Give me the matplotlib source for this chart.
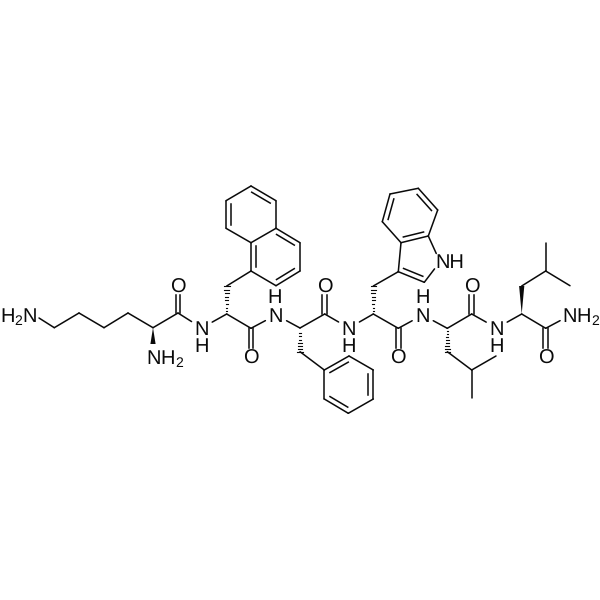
import numpy as np
import matplotlib
matplotlib.use("Agg")
import matplotlib.pyplot as plt

plt.rcParams["font.family"] = ["Liberation Sans", "DejaVu Sans"]
plt.rcParams["mathtext.fontset"] = "custom"
plt.rcParams["mathtext.rm"] = "Liberation Sans"
plt.rcParams["text.hinting"] = "no_hinting"

# atom positions (pixels, y down)
atoms = {
    "N1": (39, 318), "c1": (54.3, 327.7), "c2": (79, 313), "c3": (104, 327.7), "c4": (128, 313),
    "ca1": (153, 327.7), "N1a": (153, 344), "co1": (178, 313), "O1": (178, 286),
    "N2": (201.7, 328), "ca2": (226.7, 314), "cb2": (226.7, 286), "co2": (251, 328.3), "O2": (251, 356.7),
    "n1": (251, 271), "n2": (276, 285.7), "n3": (300, 271), "n4": (300, 242.7), "n4a": (276, 228.3),
    "n8a": (251, 242.7), "n8": (226, 228.3), "n7": (226, 200.7), "n6": (251, 186), "n5": (276, 200.7),
    "N3": (276, 315), "ca3": (300, 328), "cb3": (300, 351.7), "co3": (324.7, 314), "O3": (324.7, 286),
    "p1": (324.3, 370), "p2": (349, 356), "p3": (373.3, 370), "p4": (373.3, 399), "p5": (348.3, 413.3), "p6": (324.3, 399),
    "N4": (349, 328), "ca4": (373.3, 314), "cb4": (373.3, 286), "co4": (398.3, 328.3), "O4": (398.3, 356.7),
    "i3": (398.3, 271.7), "i2": (424.3, 282.3), "iN": (440, 261.7), "i7a": (428.3, 236), "i3a": (401, 242.7),
    "i4": (382.3, 221.7), "i5": (390, 194), "i6": (418.3, 188.3), "i7": (437.7, 210),
    "N5": (422.7, 315), "ca5": (447.3, 328.3), "cb5": (447.3, 351.7), "cg5": (471.7, 370), "d51": (496, 356), "d52": (471.7, 398.3),
    "co5": (471.7, 314), "O5": (471.7, 286),
    "N6": (496.7, 328), "ca6": (521.7, 314), "cb6": (521.7, 286), "cg6": (545.7, 271), "d61": (545.7, 243.3), "d62": (570, 285.7),
    "co6": (545.7, 328.3), "O6": (545.7, 356.7), "N7": (570.7, 315),
}

single_bonds = [
    ("N1", "c1"), ("c1", "c2"), ("c2", "c3"), ("c3", "c4"), ("c4", "ca1"), ("ca1", "co1"),
    ("co1", "N2"), ("N2", "ca2"), ("ca2", "co2"), ("co2", "N3"), ("N3", "ca3"), ("ca3", "co3"),
    ("co3", "N4"), ("N4", "ca4"), ("ca4", "co4"), ("co4", "N5"), ("N5", "ca5"), ("ca5", "co5"),
    ("co5", "N6"), ("N6", "ca6"), ("ca6", "co6"), ("co6", "N7"),
    ("cb2", "n1"), ("n1", "n2"), ("n2", "n3"), ("n3", "n4"), ("n4", "n4a"), ("n4a", "n8a"), ("n8a", "n1"),
    ("n8a", "n8"), ("n8", "n7"), ("n7", "n6"), ("n6", "n5"), ("n5", "n4a"),
    ("cb3", "p1"), ("p1", "p2"), ("p2", "p3"), ("p3", "p4"), ("p4", "p5"), ("p5", "p6"), ("p6", "p1"),
    ("cb4", "i3"), ("i3", "i2"), ("i2", "iN"), ("iN", "i7a"), ("i7a", "i3a"), ("i3a", "i3"),
    ("i3a", "i4"), ("i4", "i5"), ("i5", "i6"), ("i6", "i7"), ("i7", "i7a"),
    ("cb5", "cg5"), ("cg5", "d51"), ("cg5", "d52"),
    ("cb6", "cg6"), ("cg6", "d61"), ("cg6", "d62"),
]
carbonyls = [("co1", "O1"), ("co2", "O2"), ("co3", "O3"), ("co4", "O4"), ("co5", "O5"), ("co6", "O6")]
# second line of a ring double bond: the pair, then the ring it leans into
ring_doubles = [
    ("n8", "n7", "A"), ("n6", "n5", "A"), ("n4a", "n4", "B"), ("n3", "n2", "B"), ("n8a", "n1", "B"),
    ("p1", "p2", "P"), ("p3", "p4", "P"), ("p5", "p6", "P"),
    ("i3", "i2", "F"), ("i3a", "i7a", "I"), ("i4", "i5", "I"), ("i6", "i7", "I"),
]
rings = {
    "A": ["n8a", "n8", "n7", "n6", "n5", "n4a"],
    "B": ["n1", "n2", "n3", "n4", "n4a", "n8a"],
    "P": ["p1", "p2", "p3", "p4", "p5", "p6"],
    "F": ["i3", "i2", "iN", "i7a", "i3a"],
    "I": ["i3a", "i4", "i5", "i6", "i7", "i7a"],
}
wedges = [("ca1", "N1a"), ("ca6", "cb6")]
hashes = [("ca2", "cb2"), ("ca3", "cb3"), ("ca4", "cb4"), ("ca5", "cb5")]

# label, x centre, baseline y
labels = [
    (r"$\mathrm{H_2N}$", 19, 321.7), (r"$\mathrm{NH_2}$", 165, 363.5),
    ("O", 177.5, 293.2), ("N", 201.7, 334.7), ("H", 201.7, 351.7),
    ("O", 251, 363.8), ("N", 276, 321.7), ("H", 275, 303.4),
    ("O", 324.7, 293.2), ("N", 349, 334.7), ("H", 349, 351.7),
    ("O", 398.3, 363.8), ("N", 422.7, 321.7), ("H", 422.7, 303.4),
    ("O", 471.7, 293.2), ("N", 496.7, 334.7), ("H", 496.7, 351.7),
    ("O", 545.7, 363.8), ("NH", 450, 268.4), (r"$\mathrm{NH_2}$", 581, 321.7),
]
labelled = {"N2": 12, "N3": 12, "N4": 12, "N5": 12, "N6": 12, "N7": 12, "iN": 9,
            "O1": 9, "O2": 9, "O3": 9, "O4": 9, "O5": 9, "O6": 9}

INK = "#0a0a0a"
LW = 1.1


def pt(name):
    return np.array(atoms[name], dtype=float)


def trimmed(a, b):
    p, q = pt(a), pt(b)
    u = (q - p) / np.linalg.norm(q - p)
    return p + u * labelled.get(a, 0), q - u * labelled.get(b, 0)


fig = plt.figure(figsize=(6, 6), dpi=100)
ax = fig.add_axes([0, 0, 1, 1])
ax.set_xlim(0, 600)
ax.set_ylim(600, 0)
ax.axis("off")

for a, b in single_bonds:
    p, q = trimmed(a, b)
    ax.plot([p[0], q[0]], [p[1], q[1]], color=INK, lw=LW, solid_capstyle="round")

for a, b in carbonyls:
    p, q = trimmed(a, b)
    u = (q - p) / np.linalg.norm(q - p)
    n = np.array([-u[1], u[0]])
    for s in (-2.4, 2.4):
        ax.plot([p[0] + n[0] * s, q[0] + n[0] * s], [p[1] + n[1] * s, q[1] + n[1] * s],
                color=INK, lw=LW)

for a, b, ring in ring_doubles:
    p, q = pt(a), pt(b)
    c = np.mean([pt(x) for x in rings[ring]], axis=0)
    u = (q - p) / np.linalg.norm(q - p)
    n = np.array([-u[1], u[0]])
    if np.dot(c - p, n) < 0:
        n = -n
    length = np.linalg.norm(q - p)
    r0 = p + n * 5 + u * length * 0.13
    r1 = q + n * 5 - u * length * 0.13
    ax.plot([r0[0], r1[0]], [r0[1], r1[1]], color=INK, lw=LW)

for a, b in wedges:
    p, q = pt(a), pt(b)
    u = (q - p) / np.linalg.norm(q - p)
    n = np.array([-u[1], u[0]])
    poly = np.array([p, q + n * 2.6, q - n * 2.6])
    ax.fill(poly[:, 0], poly[:, 1], color=INK, lw=0)

for a, b in hashes:
    p, q = pt(a), pt(b)
    u = (q - p) / np.linalg.norm(q - p)
    n = np.array([-u[1], u[0]])
    for f in np.linspace(0.1, 1.0, 8):
        m = p + (q - p) * f
        w = 2.8 * f
        ax.plot([m[0] - n[0] * w, m[0] + n[0] * w], [m[1] - n[1] * w, m[1] + n[1] * w],
                color=INK, lw=0.8)

for text, x, y in labels:
    ax.text(x, y, text, fontsize=14.4, color=INK, ha="center", va="baseline")

fig.savefig("out.png", dpi=100, facecolor="white")
